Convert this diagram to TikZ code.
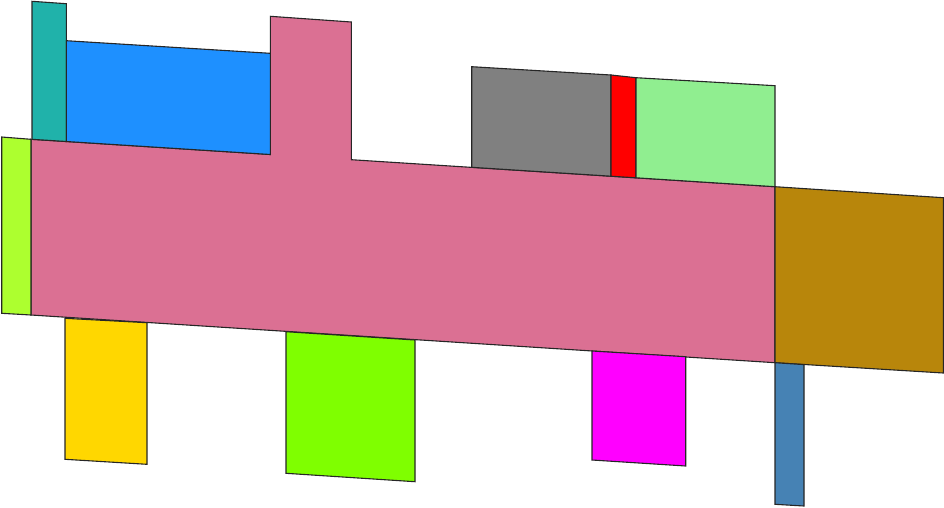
\documentclass[tikz,border=0pt]{standalone}
\usepackage{tikz}
\definecolor{cteal}{HTML}{20B2AA}
\definecolor{cblue}{HTML}{1E90FF}
\definecolor{cpink}{HTML}{DB7093}
\definecolor{clime}{HTML}{ADFF2F}
\definecolor{cgray}{HTML}{808080}
\definecolor{cred}{HTML}{FF0000}
\definecolor{clgreen}{HTML}{90EE90}
\definecolor{cbrown}{HTML}{B8860B}
\definecolor{csteel}{HTML}{4682B4}
\definecolor{cgold}{HTML}{FFD700}
\definecolor{cchart}{HTML}{7FFF00}
\definecolor{cmag}{HTML}{FF00FF}
\tikzset{room/.style={draw=black!85, line width=1.1pt, line join=miter}}
\begin{document}
\begin{tikzpicture}[x=1pt,y=-1pt]
\useasboundingbox (0,0) rectangle (944,507);
% main pink hall with tower
\filldraw[room, fill=cpink] (31,139.3) -- (270.3,154.5) -- (270.3,16.3) -- (351.3,22) -- (351.3,159.7) -- (775,186.7) -- (775,362.7) -- (31,315) -- cycle;
% teal
\filldraw[room, fill=cteal] (32,1.3) -- (66.3,3.7) -- (66.3,141.5) -- (32,139.3) -- cycle;
% blue
\filldraw[room, fill=cblue] (66.3,40.7) -- (270.3,53.3) -- (270.3,154.5) -- (66.3,141.5) -- cycle;
% lime
\filldraw[room, fill=clime] (1.7,137) -- (31,139.3) -- (31,315) -- (1.7,313.3) -- cycle;
% gray
\filldraw[room, fill=cgray] (471.7,66.7) -- (611,75) -- (611,176.2) -- (471.7,167.3) -- cycle;
% red
\filldraw[room, fill=cred] (611,75) -- (636,77.7) -- (636,177.8) -- (611,176.2) -- cycle;
% light green
\filldraw[room, fill=clgreen] (636,77.7) -- (775,85.7) -- (775,186.7) -- (636,177.8) -- cycle;
% brown
\filldraw[room, fill=cbrown] (775,186.7) -- (943.3,197.7) -- (943.3,373) -- (775,362.7) -- cycle;
% steel blue
\filldraw[room, fill=csteel] (775,362.7) -- (804,364.6) -- (804,506) -- (775,504.3) -- cycle;
% gold
\filldraw[room, fill=cgold] (65,318.3) -- (147,322.7) -- (147,464.3) -- (65,459.3) -- cycle;
% chartreuse
\filldraw[room, fill=cchart] (286,331.7) -- (415,340) -- (415,481.7) -- (286,473.3) -- cycle;
% magenta
\filldraw[room, fill=cmag] (592,351) -- (685.7,356.7) -- (685.7,466) -- (592,460) -- cycle;
\end{tikzpicture}
\end{document}
